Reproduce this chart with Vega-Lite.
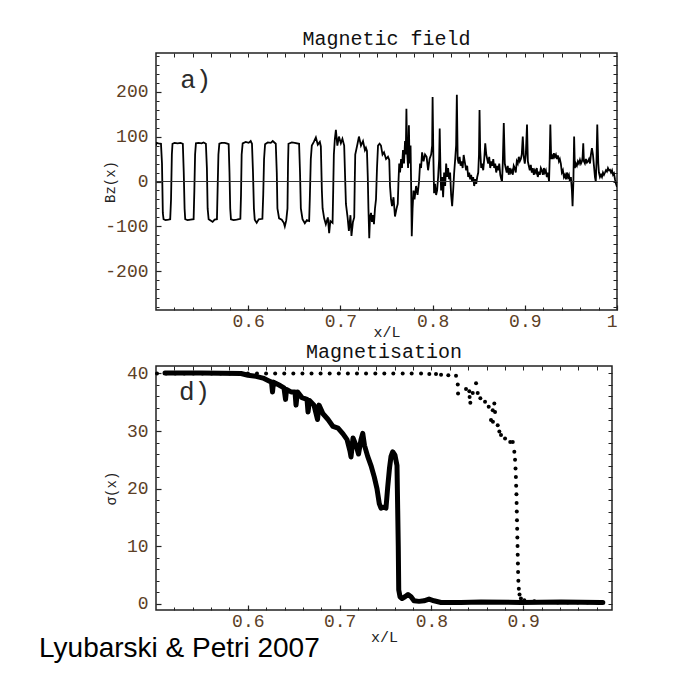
{
  "$schema": "https://vega.github.io/schema/vega-lite/v6.json",
  "background": "white",
  "padding": {"left": 39, "top": 27, "right": 5, "bottom": 5},
  "title": {"text": "Lyubarski & Petri 2007", "orient": "bottom", "anchor": "start", "font": "Liberation Sans", "fontSize": 28, "fontWeight": "normal", "color": "#000000", "baseline": "alphabetic", "dx": -64, "offset": 12},
  "config": {
    "view": {"stroke": "#222222", "strokeWidth": 1.5},
    "axis": {"grid": false, "domain": false, "minExtent": 0, "tickColor": "#222222", "labelFont": "Liberation Mono", "labelFontSize": 18, "labelColor": "#5c4026", "titleFont": "Liberation Mono", "titleFontWeight": "normal", "titleColor": "#222222"},
    "title": {"font": "Liberation Mono", "fontWeight": "normal", "fontSize": 20, "color": "#111111"}
  },
  "datasets": {
    "bz": [
      {"x":0.5000,"b":80},{"x":0.5005,"b":86},{"x":0.5027,"b":85},{"x":0.5054,"b":84},{"x":0.5065,"b":40},{"x":0.5074,"b":-70},{"x":0.5082,"b":-84},{"x":0.5103,"b":-86},{"x":0.5136,"b":-85},{"x":0.5154,"b":-84},{"x":0.5163,"b":-40},{"x":0.5172,"b":60},{"x":0.5179,"b":84},{"x":0.5201,"b":86},{"x":0.5234,"b":85},{"x":0.5266,"b":86},{"x":0.5291,"b":84},{"x":0.5301,"b":20},{"x":0.5310,"b":-60},{"x":0.5317,"b":-84},{"x":0.5342,"b":-86},{"x":0.5375,"b":-85},{"x":0.5408,"b":-84},{"x":0.5416,"b":-20},{"x":0.5424,"b":60},{"x":0.5433,"b":85},{"x":0.5462,"b":86},{"x":0.5495,"b":85},{"x":0.5516,"b":87},{"x":0.5541,"b":84},{"x":0.5552,"b":30},{"x":0.5560,"b":-60},{"x":0.5571,"b":-84},{"x":0.5592,"b":-87},{"x":0.5614,"b":-90},{"x":0.5636,"b":-85},{"x":0.5661,"b":-84},{"x":0.5668,"b":-20},{"x":0.5677,"b":60},{"x":0.5687,"b":84},{"x":0.5712,"b":86},{"x":0.5745,"b":86},{"x":0.5766,"b":85},{"x":0.5788,"b":83},{"x":0.5797,"b":20},{"x":0.5805,"b":-60},{"x":0.5813,"b":-84},{"x":0.5842,"b":-86},{"x":0.5875,"b":-85},{"x":0.5915,"b":-83},{"x":0.5922,"b":-30},{"x":0.5929,"b":60},{"x":0.5940,"b":85},{"x":0.5973,"b":88},{"x":0.6005,"b":86},{"x":0.6027,"b":90},{"x":0.6041,"b":84},{"x":0.6052,"b":20},{"x":0.6062,"b":-60},{"x":0.6071,"b":-85},{"x":0.6092,"b":-92},{"x":0.6114,"b":-84},{"x":0.6154,"b":-83},{"x":0.6163,"b":-30},{"x":0.6172,"b":50},{"x":0.6183,"b":83},{"x":0.6212,"b":87},{"x":0.6245,"b":86},{"x":0.6266,"b":90},{"x":0.6299,"b":84},{"x":0.6310,"b":20},{"x":0.6317,"b":-60},{"x":0.6335,"b":-82},{"x":0.6364,"b":-85},{"x":0.6386,"b":-92},{"x":0.6397,"b":-100},{"x":0.6413,"b":-86},{"x":0.6426,"b":-60},{"x":0.6432,"b":40},{"x":0.6437,"b":84},{"x":0.6473,"b":87},{"x":0.6505,"b":86},{"x":0.6552,"b":84},{"x":0.6562,"b":20},{"x":0.6571,"b":-60},{"x":0.6589,"b":-84},{"x":0.6614,"b":-93},{"x":0.6636,"b":-86},{"x":0.6661,"b":-88},{"x":0.6668,"b":-40},{"x":0.6679,"b":50},{"x":0.6690,"b":80},{"x":0.6712,"b":88},{"x":0.6734,"b":98},{"x":0.6755,"b":82},{"x":0.6777,"b":88},{"x":0.6788,"b":78},{"x":0.6799,"b":-20},{"x":0.6807,"b":-60},{"x":0.6824,"b":-82},{"x":0.6842,"b":-95},{"x":0.6864,"b":-80},{"x":0.6878,"b":-115},{"x":0.6891,"b":-88},{"x":0.6915,"b":-92},{"x":0.6922,"b":-20},{"x":0.6929,"b":60},{"x":0.6940,"b":95},{"x":0.6951,"b":115},{"x":0.6967,"b":80},{"x":0.6984,"b":100},{"x":0.7005,"b":85},{"x":0.7022,"b":95},{"x":0.7041,"b":80},{"x":0.7051,"b":10},{"x":0.7060,"b":-50},{"x":0.7078,"b":-80},{"x":0.7092,"b":-110},{"x":0.7109,"b":-75},{"x":0.7120,"b":-121},{"x":0.7136,"b":-90},{"x":0.7150,"b":-80},{"x":0.7155,"b":-10},{"x":0.7161,"b":60},{"x":0.7187,"b":85},{"x":0.7201,"b":100},{"x":0.7223,"b":80},{"x":0.7245,"b":90},{"x":0.7266,"b":70},{"x":0.7277,"b":75},{"x":0.7288,"b":68},{"x":0.7297,"b":10},{"x":0.7304,"b":-60},{"x":0.7313,"b":-126},{"x":0.7321,"b":-80},{"x":0.7332,"b":-70},{"x":0.7342,"b":-90},{"x":0.7353,"b":-75},{"x":0.7364,"b":-95},{"x":0.7375,"b":-60},{"x":0.7386,"b":-40},{"x":0.7397,"b":30},{"x":0.7408,"b":80},{"x":0.7425,"b":84},{"x":0.7440,"b":80},{"x":0.7457,"b":60},{"x":0.7473,"b":65},{"x":0.7495,"b":50},{"x":0.7516,"b":55},{"x":0.7530,"b":48},{"x":0.7538,"b":-10},{"x":0.7549,"b":-40},{"x":0.7560,"b":-55},{"x":0.7576,"b":-35},{"x":0.7592,"b":-78},{"x":0.7609,"b":-60},{"x":0.7622,"b":-50},{"x":0.7630,"b":0},{"x":0.7638,"b":40},{"x":0.7647,"b":20},{"x":0.7658,"b":50},{"x":0.7668,"b":30},{"x":0.7679,"b":70},{"x":0.7690,"b":40},{"x":0.7701,"b":90},{"x":0.7709,"b":60},{"x":0.7716,"b":162},{"x":0.7723,"b":70},{"x":0.7734,"b":30},{"x":0.7743,"b":125},{"x":0.7750,"b":40},{"x":0.7761,"b":80},{"x":0.7768,"b":-20},{"x":0.7774,"b":-122},{"x":0.7783,"b":-60},{"x":0.7793,"b":-20},{"x":0.7804,"b":-40},{"x":0.7821,"b":-10},{"x":0.7837,"b":-30},{"x":0.7853,"b":0},{"x":0.7864,"b":40},{"x":0.7875,"b":30},{"x":0.7886,"b":65},{"x":0.7902,"b":45},{"x":0.7918,"b":60},{"x":0.7935,"b":55},{"x":0.7951,"b":25},{"x":0.7967,"b":50},{"x":0.7984,"b":60},{"x":0.7995,"b":80},{"x":0.8000,"b":188},{"x":0.8008,"b":60},{"x":0.8016,"b":-26},{"x":0.8027,"b":-5},{"x":0.8038,"b":-30},{"x":0.8049,"b":-20},{"x":0.8060,"b":10},{"x":0.8071,"b":50},{"x":0.8077,"b":118},{"x":0.8085,"b":30},{"x":0.8092,"b":-20},{"x":0.8103,"b":10},{"x":0.8114,"b":-35},{"x":0.8125,"b":20},{"x":0.8136,"b":-10},{"x":0.8147,"b":40},{"x":0.8158,"b":10},{"x":0.8168,"b":30},{"x":0.8179,"b":5},{"x":0.8190,"b":20},{"x":0.8201,"b":-30},{"x":0.8212,"b":-55},{"x":0.8223,"b":-20},{"x":0.8234,"b":20},{"x":0.8245,"b":50},{"x":0.8255,"b":80},{"x":0.8263,"b":193},{"x":0.8272,"b":50},{"x":0.8283,"b":40},{"x":0.8293,"b":55},{"x":0.8304,"b":35},{"x":0.8315,"b":45},{"x":0.8326,"b":30},{"x":0.8337,"b":59},{"x":0.8348,"b":45},{"x":0.8364,"b":25},{"x":0.8375,"b":35},{"x":0.8386,"b":10},{"x":0.8397,"b":20},{"x":0.8408,"b":5},{"x":0.8418,"b":15},{"x":0.8429,"b":0},{"x":0.8440,"b":10},{"x":0.8451,"b":-10},{"x":0.8462,"b":5},{"x":0.8473,"b":-5},{"x":0.8484,"b":10},{"x":0.8495,"b":20},{"x":0.8503,"b":60},{"x":0.8509,"b":159},{"x":0.8516,"b":70},{"x":0.8527,"b":30},{"x":0.8538,"b":40},{"x":0.8549,"b":25},{"x":0.8560,"b":50},{"x":0.8571,"b":85},{"x":0.8582,"b":60},{"x":0.8592,"b":50},{"x":0.8603,"b":40},{"x":0.8614,"b":55},{"x":0.8625,"b":30},{"x":0.8636,"b":45},{"x":0.8647,"b":35},{"x":0.8658,"b":50},{"x":0.8668,"b":30},{"x":0.8679,"b":40},{"x":0.8690,"b":20},{"x":0.8701,"b":35},{"x":0.8712,"b":25},{"x":0.8723,"b":40},{"x":0.8734,"b":15},{"x":0.8745,"b":5},{"x":0.8753,"b":0},{"x":0.8761,"b":40},{"x":0.8772,"b":130},{"x":0.8783,"b":40},{"x":0.8793,"b":30},{"x":0.8804,"b":20},{"x":0.8815,"b":35},{"x":0.8826,"b":15},{"x":0.8837,"b":30},{"x":0.8848,"b":20},{"x":0.8859,"b":25},{"x":0.8870,"b":15},{"x":0.8880,"b":35},{"x":0.8891,"b":30},{"x":0.8902,"b":20},{"x":0.8913,"b":45},{"x":0.8924,"b":40},{"x":0.8935,"b":55},{"x":0.8946,"b":45},{"x":0.8957,"b":50},{"x":0.8967,"b":60},{"x":0.8978,"b":100},{"x":0.8989,"b":55},{"x":0.9000,"b":40},{"x":0.9011,"b":60},{"x":0.9024,"b":127},{"x":0.9033,"b":45},{"x":0.9043,"b":35},{"x":0.9054,"b":25},{"x":0.9065,"b":37},{"x":0.9076,"b":20},{"x":0.9087,"b":30},{"x":0.9098,"b":15},{"x":0.9109,"b":25},{"x":0.9120,"b":20},{"x":0.9130,"b":30},{"x":0.9141,"b":10},{"x":0.9152,"b":22},{"x":0.9163,"b":15},{"x":0.9174,"b":30},{"x":0.9185,"b":25},{"x":0.9196,"b":15},{"x":0.9207,"b":30},{"x":0.9217,"b":20},{"x":0.9228,"b":25},{"x":0.9239,"b":10},{"x":0.9250,"b":20},{"x":0.9263,"b":0},{"x":0.9270,"b":50},{"x":0.9277,"b":127},{"x":0.9286,"b":50},{"x":0.9293,"b":60},{"x":0.9304,"b":50},{"x":0.9315,"b":63},{"x":0.9326,"b":55},{"x":0.9337,"b":60},{"x":0.9348,"b":50},{"x":0.9359,"b":58},{"x":0.9370,"b":45},{"x":0.9380,"b":50},{"x":0.9391,"b":40},{"x":0.9402,"b":20},{"x":0.9413,"b":25},{"x":0.9424,"b":10},{"x":0.9435,"b":15},{"x":0.9446,"b":5},{"x":0.9457,"b":20},{"x":0.9467,"b":10},{"x":0.9478,"b":15},{"x":0.9489,"b":0},{"x":0.9500,"b":10},{"x":0.9511,"b":-20},{"x":0.9518,"b":-55},{"x":0.9527,"b":0},{"x":0.9535,"b":100},{"x":0.9543,"b":30},{"x":0.9554,"b":40},{"x":0.9565,"b":35},{"x":0.9576,"b":45},{"x":0.9587,"b":40},{"x":0.9598,"b":48},{"x":0.9609,"b":40},{"x":0.9620,"b":45},{"x":0.9627,"b":55},{"x":0.9634,"b":85},{"x":0.9641,"b":45},{"x":0.9652,"b":40},{"x":0.9663,"b":50},{"x":0.9674,"b":42},{"x":0.9685,"b":45},{"x":0.9696,"b":50},{"x":0.9707,"b":40},{"x":0.9717,"b":60},{"x":0.9728,"b":74},{"x":0.9739,"b":60},{"x":0.9750,"b":35},{"x":0.9761,"b":10},{"x":0.9770,"b":0},{"x":0.9777,"b":40},{"x":0.9786,"b":127},{"x":0.9797,"b":40},{"x":0.9804,"b":20},{"x":0.9815,"b":10},{"x":0.9826,"b":15},{"x":0.9837,"b":10},{"x":0.9848,"b":20},{"x":0.9859,"b":15},{"x":0.9870,"b":20},{"x":0.9880,"b":25},{"x":0.9891,"b":22},{"x":0.9902,"b":30},{"x":0.9913,"b":25},{"x":0.9924,"b":26},{"x":0.9935,"b":20},{"x":0.9946,"b":25},{"x":0.9957,"b":15},{"x":0.9967,"b":18},{"x":0.9978,"b":5},{"x":0.9989,"b":-5},{"x":1.0000,"b":-12}
    ],
    "sig": [
      {"x":0.5098,"s":40.1},{"x":0.549,"s":40.1},{"x":0.5926,"s":40.0},{"x":0.6002,"s":39.7},{"x":0.6089,"s":39.5},{"x":0.6166,"s":39.2},{"x":0.6231,"s":38.7},{"x":0.6258,"s":38.5},{"x":0.6269,"s":36.8},{"x":0.6280,"s":38.5},{"x":0.6340,"s":38.0},{"x":0.6394,"s":37.5},{"x":0.6411,"s":35.5},{"x":0.6422,"s":37.2},{"x":0.6471,"s":36.8},{"x":0.6514,"s":36.8},{"x":0.6525,"s":34.5},{"x":0.6541,"s":36.8},{"x":0.6590,"s":35.8},{"x":0.6645,"s":35.5},{"x":0.6656,"s":33.3},{"x":0.6672,"s":35.3},{"x":0.6721,"s":34.5},{"x":0.6759,"s":32.0},{"x":0.6776,"s":34.5},{"x":0.6819,"s":33.0},{"x":0.6874,"s":32.0},{"x":0.6928,"s":30.8},{"x":0.6983,"s":30.5},{"x":0.7037,"s":29.5},{"x":0.7081,"s":28.5},{"x":0.7113,"s":26.5},{"x":0.7124,"s":25.5},{"x":0.7146,"s":28.8},{"x":0.7179,"s":27.5},{"x":0.7206,"s":26.0},{"x":0.7233,"s":28.5},{"x":0.7252,"s":29.6},{"x":0.7271,"s":27.5},{"x":0.7306,"s":25.6},{"x":0.7342,"s":24.0},{"x":0.7378,"s":22.0},{"x":0.7407,"s":20.0},{"x":0.7432,"s":17.4},{"x":0.7451,"s":16.6},{"x":0.7484,"s":16.8},{"x":0.7505,"s":16.6},{"x":0.7524,"s":20.3},{"x":0.7543,"s":23.5},{"x":0.7560,"s":25.6},{"x":0.7578,"s":26.4},{"x":0.7603,"s":25.8},{"x":0.7625,"s":24.0},{"x":0.7639,"s":10},{"x":0.7644,"s":2.4},{"x":0.7658,"s":1.2},{"x":0.7680,"s":0.9},{"x":0.7712,"s":1.2},{"x":0.7745,"s":1.6},{"x":0.7778,"s":1.2},{"x":0.7810,"s":0.5},{"x":0.7865,"s":0.4},{"x":0.7919,"s":0.5},{"x":0.7974,"s":0.8},{"x":0.8028,"s":0.5},{"x":0.8105,"s":0.2},{"x":0.8322,"s":0.2},{"x":0.8540,"s":0.3},{"x":0.8976,"s":0.2},{"x":0.9412,"s":0.3},{"x":0.9847,"s":0.2},{"x":0.9867,"s":0.2}
    ],
    "dots": [
      {"x":0.5011,"s":40},{"x":0.5110,"s":40},{"x":0.5209,"s":40},{"x":0.5308,"s":40},{"x":0.5407,"s":40},{"x":0.5506,"s":40},{"x":0.5605,"s":40},{"x":0.5704,"s":40},{"x":0.5803,"s":40},{"x":0.5902,"s":40},{"x":0.6001,"s":40},{"x":0.6100,"s":40},{"x":0.6199,"s":40},{"x":0.6298,"s":40},{"x":0.6397,"s":40},{"x":0.6496,"s":40},{"x":0.6595,"s":40},{"x":0.6694,"s":40},{"x":0.6793,"s":40},{"x":0.6892,"s":40},{"x":0.6991,"s":40},{"x":0.7090,"s":40},{"x":0.7189,"s":40},{"x":0.7288,"s":40},{"x":0.7389,"s":40},{"x":0.7487,"s":40},{"x":0.7585,"s":40},{"x":0.7687,"s":40},{"x":0.7785,"s":40},{"x":0.7887,"s":40},{"x":0.7977,"s":39.9},{"x":0.8050,"s":39.9},{"x":0.8105,"s":39.8},{"x":0.8184,"s":39.7},{"x":0.8268,"s":39.6},
      {"x":0.8287,"s":38.1},{"x":0.8290,"s":36.5},{"x":0.8377,"s":37.3},{"x":0.8413,"s":36.9},{"x":0.8416,"s":35.9},{"x":0.8424,"s":34.9},{"x":0.8450,"s":36.6},{"x":0.8486,"s":38.3},{"x":0.8504,"s":36.6},{"x":0.8533,"s":35.7},{"x":0.8584,"s":35.1},{"x":0.8624,"s":34.2},{"x":0.8649,"s":31.9},{"x":0.8668,"s":33.6},{"x":0.8670,"s":31.6},{"x":0.8685,"s":34.8},{"x":0.8693,"s":33.3},{"x":0.8722,"s":31.0},{"x":0.8740,"s":29.9},{"x":0.8758,"s":29.3},{"x":0.8802,"s":28.7},{"x":0.8859,"s":28.1},{"x":0.8886,"s":28.1},{"x":0.8903,"s":26.4},{"x":0.8911,"s":25.0},
      {"x":0.8916,"s":23.5},{"x":0.8920,"s":22.0},{"x":0.8923,"s":20.5},{"x":0.8926,"s":19.0},{"x":0.8928,"s":17.5},{"x":0.8930,"s":16.0},{"x":0.8932,"s":14.5},{"x":0.8934,"s":13.0},{"x":0.8936,"s":11.5},{"x":0.8938,"s":10.0},{"x":0.8940,"s":8.5},{"x":0.8942,"s":7.0},{"x":0.8944,"s":5.5},{"x":0.8947,"s":4.0},{"x":0.8952,"s":2.6},{"x":0.8960,"s":1.6},{"x":0.8975,"s":0.9},
      {"x":0.9012,"s":0.6},{"x":0.9121,"s":0.4},{"x":0.9248,"s":0.3},{"x":0.9376,"s":0.2},{"x":0.9485,"s":0.2},{"x":0.9594,"s":0.2},{"x":0.9700,"s":0.2},{"x":0.9800,"s":0.2},{"x":0.9860,"s":0.2}
    ]
  },
  "spacing": 56,
  "bounds": "flush",
  "vconcat": [
    {
      "width": 461,
      "height": 257,
      "title": {"text": "Magnetic field", "frame": "group", "anchor": "middle", "baseline": "alphabetic", "offset": -12},
      "layer": [
        {
          "data": {"name": "bz"},
          "mark": {"type": "line", "color": "#000000", "strokeWidth": 1.8, "clip": true},
          "encoding": {
            "x": {"field": "x", "type": "quantitative", "scale": {"domain": [0.5, 1.0], "nice": false, "zero": false},
              "axis": {"orient": "bottom", "values": [0.6, 0.7, 0.8, 0.9, 1.0], "format": ".1~f", "tickSize": -5, "tickWidth": 1.2, "labelPadding": 7, "title": "x/L", "titleFontSize": 15, "titlePadding": -6}},
            "y": {"field": "b", "type": "quantitative", "scale": {"domain": [-286, 286], "nice": false, "zero": false},
              "axis": {"orient": "left", "values": [-200, -100, 0, 100, 200], "labelExpr": "'' + datum.value", "tickSize": -5, "tickWidth": 1.2, "labelPadding": 13, "title": "Bz(x)", "titleFontSize": 14, "titlePadding": -13}}
          }
        },
        {
          "data": {"values": [{}]},
          "mark": {"type": "rule", "color": "#333333", "strokeWidth": 1.2},
          "encoding": {
            "x": {"datum": 0.5, "type": "quantitative", "axis": {"orient": "bottom", "values": [0.52,0.54,0.56,0.58,0.6,0.62,0.64,0.66,0.68,0.7,0.72,0.74,0.76,0.78,0.8,0.82,0.84,0.86,0.88,0.9,0.92,0.94,0.96,0.98], "tickSize": -3, "labels": false, "title": null}},
            "x2": {"datum": 1.0},
            "y": {"datum": 0, "type": "quantitative", "axis": {"orient": "left", "values": [-280,-260,-240,-220,-200,-180,-160,-140,-120,-100,-80,-60,-40,-20,0,20,40,60,80,100,120,140,160,180,200,220,240,260,280], "tickSize": -3, "labels": false, "title": null}}
          }
        },
        {
          "data": {"values": [{}]},
          "mark": {"type": "text", "font": "Liberation Mono", "fontSize": 26, "align": "left", "baseline": "alphabetic", "color": "#2b2b2b"},
          "encoding": {
            "x": {"datum": 0.5263, "type": "quantitative", "axis": {"orient": "top", "values": [0.52,0.54,0.56,0.58,0.6,0.62,0.64,0.66,0.68,0.7,0.72,0.74,0.76,0.78,0.8,0.82,0.84,0.86,0.88,0.9,0.92,0.94,0.96,0.98], "tickSize": -4, "labels": false, "title": null}},
            "y": {"datum": 208, "type": "quantitative", "axis": {"orient": "right", "values": [-280,-260,-240,-220,-200,-180,-160,-140,-120,-100,-80,-60,-40,-20,0,20,40,60,80,100,120,140,160,180,200,220,240,260,280], "tickSize": -4, "labels": false, "title": null}},
            "text": {"value": "a)"}
          }
        }
      ],
      "resolve": {"axis": {"x": "independent", "y": "independent"}}
    },
    {
      "width": 456,
      "height": 244,
      "title": {"text": "Magnetisation", "frame": "group", "anchor": "middle", "baseline": "alphabetic", "offset": -14},
      "layer": [
        {
          "data": {"name": "sig"},
          "mark": {"type": "line", "color": "#000000", "strokeWidth": 5, "strokeJoin": "round", "strokeCap": "round"},
          "encoding": {
            "x": {"field": "x", "type": "quantitative", "scale": {"domain": [0.5, 0.9967], "nice": false, "zero": false},
              "axis": {"orient": "bottom", "values": [0.6, 0.7, 0.8, 0.9], "format": ".1~f", "tickSize": -5, "tickWidth": 1.2, "labelPadding": 7, "title": "x/L", "titleFontSize": 15, "titlePadding": -1}},
            "y": {"field": "s", "type": "quantitative", "scale": {"domain": [-1.1, 41.3], "nice": false, "zero": false},
              "axis": {"orient": "left", "values": [0, 10, 20, 30, 40], "tickSize": -5, "tickWidth": 1.2, "labelPadding": 13, "title": "σ(x)", "titleFontSize": 14, "titlePadding": 8}}
          }
        },
        {
          "data": {"name": "dots"},
          "mark": {"type": "circle", "color": "#000000", "size": 16, "opacity": 1},
          "encoding": {
            "x": {"field": "x", "type": "quantitative", "axis": {"orient": "bottom", "values": [0.52,0.54,0.56,0.58,0.6,0.62,0.64,0.66,0.68,0.7,0.72,0.74,0.76,0.78,0.8,0.82,0.84,0.86,0.88,0.9,0.92,0.94,0.96,0.98], "tickSize": -3, "labels": false, "title": null}},
            "y": {"field": "s", "type": "quantitative", "axis": {"orient": "left", "values": [0,2,4,6,8,10,12,14,16,18,20,22,24,26,28,30,32,34,36,38,40], "tickSize": -3, "labels": false, "title": null}}
          }
        },
        {
          "data": {"values": [{}]},
          "mark": {"type": "text", "font": "Liberation Mono", "fontSize": 26, "align": "left", "baseline": "alphabetic", "color": "#2b2b2b"},
          "encoding": {
            "x": {"datum": 0.525, "type": "quantitative", "axis": {"orient": "top", "values": [0.52,0.54,0.56,0.58,0.6,0.62,0.64,0.66,0.68,0.7,0.72,0.74,0.76,0.78,0.8,0.82,0.84,0.86,0.88,0.9,0.92,0.94,0.96,0.98], "tickSize": -4, "labels": false, "title": null}},
            "y": {"datum": 35.4, "type": "quantitative", "axis": {"orient": "right", "values": [0,2,4,6,8,10,12,14,16,18,20,22,24,26,28,30,32,34,36,38,40], "tickSize": -4, "labels": false, "title": null}},
            "text": {"value": "d)"}
          }
        }
      ],
      "resolve": {"axis": {"x": "independent", "y": "independent"}}
    }
  ]
}
